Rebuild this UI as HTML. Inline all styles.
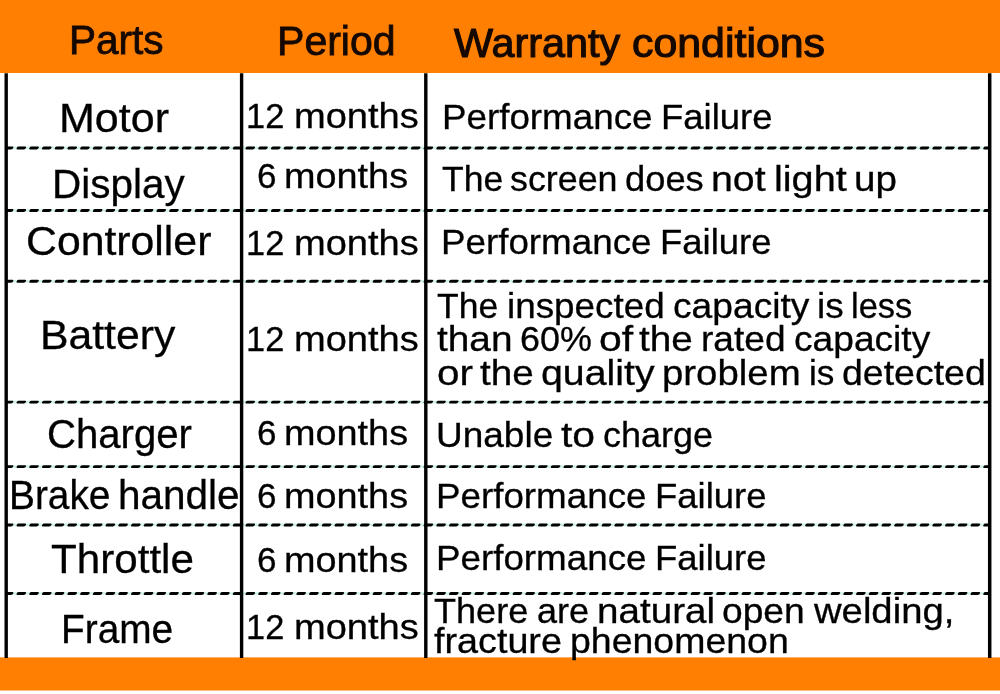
<!DOCTYPE html>
<html lang="en">
<head>
<meta charset="utf-8">
<title>Warranty conditions</title>
<style>
html,body{margin:0;padding:0;}
body{width:1000px;height:694px;background:#fff;overflow:hidden;position:relative;
  font-family:"Liberation Sans","Noto Sans CJK SC",sans-serif;color:#000;}
#warranty{will-change:transform;position:absolute;left:0;top:0;width:1000px;height:694px;overflow:hidden;background:#fff;}
svg.rules{position:absolute;left:0;top:0;}
.t{position:absolute;white-space:nowrap;line-height:1;transform-origin:0 0;}
.t.h{font-size:40px;color:#140800;-webkit-text-stroke:0.8px #140800;}
.t.w{font-size:40px;color:#140800;-webkit-text-stroke:1.1px #140800;}
.t.a{font-size:40px;-webkit-text-stroke:0.3px #000;}
.t.b{font-size:35px;-webkit-text-stroke:0.3px #000;}
</style>
</head>
<body>
<div id="warranty">
<svg class="rules" width="1000" height="694" viewBox="0 0 1000 694">
<rect x="0" y="0" width="1000" height="73.0" fill="#fe7f02"/>
<rect x="0" y="657.4" width="1000" height="33.1" fill="#fe7f02"/>
<line x1="7.2" y1="147.9" x2="988.7" y2="147.9" stroke="#d2f1ea" stroke-width="2.6"/>
<line x1="7.2" y1="147.9" x2="988.7" y2="147.9" stroke="#000" stroke-width="2.95" stroke-linecap="round" stroke-dasharray="6.3 6.42" stroke-dashoffset="1.75" transform="translate(65.85 0) skewX(-24)"/>
<line x1="7.2" y1="210.5" x2="988.7" y2="210.5" stroke="#d2f1ea" stroke-width="2.6"/>
<line x1="7.2" y1="210.5" x2="988.7" y2="210.5" stroke="#000" stroke-width="2.95" stroke-linecap="round" stroke-dasharray="6.3 6.42" stroke-dashoffset="1.75" transform="translate(93.72 0) skewX(-24)"/>
<line x1="7.2" y1="281.2" x2="988.7" y2="281.2" stroke="#d2f1ea" stroke-width="2.6"/>
<line x1="7.2" y1="281.2" x2="988.7" y2="281.2" stroke="#000" stroke-width="2.95" stroke-linecap="round" stroke-dasharray="6.3 6.42" stroke-dashoffset="1.75" transform="translate(125.20 0) skewX(-24)"/>
<line x1="7.2" y1="402.1" x2="988.7" y2="402.1" stroke="#d2f1ea" stroke-width="2.6"/>
<line x1="7.2" y1="402.1" x2="988.7" y2="402.1" stroke="#000" stroke-width="2.95" stroke-linecap="round" stroke-dasharray="6.3 6.42" stroke-dashoffset="1.75" transform="translate(179.03 0) skewX(-24)"/>
<line x1="7.2" y1="466.6" x2="988.7" y2="466.6" stroke="#d2f1ea" stroke-width="2.6"/>
<line x1="7.2" y1="466.6" x2="988.7" y2="466.6" stroke="#000" stroke-width="2.95" stroke-linecap="round" stroke-dasharray="6.3 6.42" stroke-dashoffset="1.75" transform="translate(207.74 0) skewX(-24)"/>
<line x1="7.2" y1="524.9" x2="988.7" y2="524.9" stroke="#d2f1ea" stroke-width="2.6"/>
<line x1="7.2" y1="524.9" x2="988.7" y2="524.9" stroke="#000" stroke-width="2.95" stroke-linecap="round" stroke-dasharray="6.3 6.42" stroke-dashoffset="1.75" transform="translate(233.70 0) skewX(-24)"/>
<line x1="7.2" y1="593.5" x2="988.7" y2="593.5" stroke="#d2f1ea" stroke-width="2.6"/>
<line x1="7.2" y1="593.5" x2="988.7" y2="593.5" stroke="#000" stroke-width="2.95" stroke-linecap="round" stroke-dasharray="6.3 6.42" stroke-dashoffset="1.75" transform="translate(264.24 0) skewX(-24)"/>
<line x1="6.2" y1="73.2" x2="6.2" y2="657.9" stroke="#000" stroke-width="3.4"/>
<line x1="241.6" y1="73.2" x2="241.6" y2="657.9" stroke="#000" stroke-width="3.4"/>
<line x1="425.8" y1="73.2" x2="425.8" y2="657.9" stroke="#000" stroke-width="3.4"/>
<line x1="989.7" y1="73.2" x2="989.7" y2="657.9" stroke="#000" stroke-width="3.5"/>
</svg>
<div class="row head">
  <div class="cell"><span class="t h" style="left:69.09px;top:19.91px;transform:scaleX(1.0124)">Parts</span></div>
  <div class="cell"><span class="t h" style="left:276.75px;top:20.81px;transform:scaleX(1.0261)">Period</span></div>
  <div class="cell"><span class="t w" style="left:454.47px;top:23.06px;transform:scaleX(1.0332)">Warranty</span> <span class="t w" style="left:631.56px;top:23.06px;transform:scaleX(1.0718)">conditions</span></div>
</div>
<div class="row">
  <div class="cell"><span class="t a" style="left:58.59px;top:98.40px;transform:scaleX(1.0758)">Motor</span></div>
  <div class="cell"><span class="t b" style="left:246.49px;top:97.90px;transform:scaleX(0.9829)">12</span> <span class="t b" style="left:293.50px;top:97.90px;transform:scaleX(1.0872)">months</span></div>
  <div class="cell"><span class="t b" style="left:442.33px;top:98.90px;transform:scaleX(1.0504)">Performance</span> <span class="t b" style="left:660.95px;top:98.90px;transform:scaleX(1.0421)">Failure</span></div>
</div>
<div class="row">
  <div class="cell"><span class="t a" style="left:51.50px;top:163.70px;transform:scaleX(1.0112)">Display</span></div>
  <div class="cell"><span class="t b" style="left:256.84px;top:158.20px;transform:scaleX(1.0013)">6</span> <span class="t b" style="left:283.61px;top:158.20px;transform:scaleX(1.0809)">months</span></div>
  <div class="cell"><span class="t b" style="left:441.55px;top:161.40px;transform:scaleX(1.0148)">The</span> <span class="t b" style="left:510.22px;top:161.40px;transform:scaleX(1.0230)">screen</span> <span class="t b" style="left:624.99px;top:161.40px;transform:scaleX(1.0381)">does</span> <span class="t b" style="left:711.12px;top:161.40px;transform:scaleX(1.1226)">not</span> <span class="t b" style="left:774.19px;top:161.40px;transform:scaleX(1.1326)">light</span> <span class="t b" style="left:854.42px;top:161.40px;transform:scaleX(1.1027)">up</span></div>
</div>
<div class="row">
  <div class="cell"><span class="t a" style="left:25.88px;top:221.10px;transform:scaleX(1.0691)">Controller</span></div>
  <div class="cell"><span class="t b" style="left:246.49px;top:224.90px;transform:scaleX(0.9829)">12</span> <span class="t b" style="left:293.50px;top:224.90px;transform:scaleX(1.0872)">months</span></div>
  <div class="cell"><span class="t b" style="left:441.43px;top:224.00px;transform:scaleX(1.0504)">Performance</span> <span class="t b" style="left:660.05px;top:224.00px;transform:scaleX(1.0421)">Failure</span></div>
</div>
<div class="row">
  <div class="cell"><span class="t a" style="left:39.82px;top:315.20px;transform:scaleX(1.0672)">Battery</span></div>
  <div class="cell"><span class="t b" style="left:246.49px;top:321.30px;transform:scaleX(0.9829)">12</span> <span class="t b" style="left:293.50px;top:321.30px;transform:scaleX(1.0872)">months</span></div>
  <div class="cell">
    <div class="ln"><span class="t b" style="left:437.36px;top:287.60px;transform:scaleX(1.0131)">The</span> <span class="t b" style="left:506.58px;top:287.60px;transform:scaleX(1.0528)">inspected</span> <span class="t b" style="left:672.55px;top:287.60px;transform:scaleX(1.0628)">capacity</span> <span class="t b" style="left:816.77px;top:287.60px;transform:scaleX(1.0560)">is</span> <span class="t b" style="left:851.01px;top:287.60px;transform:scaleX(0.9853)">less</span></div>
    <div class="ln"><span class="t b" style="left:437.23px;top:321.30px;transform:scaleX(1.1088)">than</span> <span class="t b" style="left:519.90px;top:321.30px;transform:scaleX(1.0249)">60%</span> <span class="t b" style="left:598.91px;top:321.30px;transform:scaleX(1.1685)">of</span> <span class="t b" style="left:639.03px;top:321.30px;transform:scaleX(1.1056)">the</span> <span class="t b" style="left:701.06px;top:321.30px;transform:scaleX(1.0594)">rated</span> <span class="t b" style="left:793.85px;top:321.30px;transform:scaleX(1.0612)">capacity</span></div>
    <div class="ln"><span class="t b" style="left:436.63px;top:354.90px;transform:scaleX(1.1572)">or</span> <span class="t b" style="left:479.83px;top:354.90px;transform:scaleX(1.1035)">the</span> <span class="t b" style="left:540.57px;top:354.90px;transform:scaleX(1.1224)">quality</span> <span class="t b" style="left:661.72px;top:354.90px;transform:scaleX(1.0962)">problem</span> <span class="t b" style="left:808.78px;top:354.90px;transform:scaleX(1.0057)">is</span> <span class="t b" style="left:841.54px;top:354.90px;transform:scaleX(1.0703)">detected</span></div>
  </div>
</div>
<div class="row">
  <div class="cell"><span class="t a" style="left:46.90px;top:413.50px;transform:scaleX(1.0031)">Charger</span></div>
  <div class="cell"><span class="t b" style="left:256.84px;top:415.30px;transform:scaleX(1.0013)">6</span> <span class="t b" style="left:283.61px;top:415.30px;transform:scaleX(1.0809)">months</span></div>
  <div class="cell"><span class="t b" style="left:436.19px;top:417.40px;transform:scaleX(1.0567)">Unable</span> <span class="t b" style="left:560.71px;top:417.40px;transform:scaleX(1.1659)">to</span> <span class="t b" style="left:602.80px;top:417.40px;transform:scaleX(1.0285)">charge</span></div>
</div>
<div class="row">
  <div class="cell"><span class="t a" style="left:9.22px;top:474.90px;transform:scaleX(0.9706)">Brake</span> <span class="t a" style="left:118.43px;top:474.90px;transform:scaleX(1.0119)">handle</span></div>
  <div class="cell"><span class="t b" style="left:256.84px;top:477.90px;transform:scaleX(1.0013)">6</span> <span class="t b" style="left:283.61px;top:477.90px;transform:scaleX(1.0809)">months</span></div>
  <div class="cell"><span class="t b" style="left:436.33px;top:477.60px;transform:scaleX(1.0504)">Performance</span> <span class="t b" style="left:654.95px;top:477.60px;transform:scaleX(1.0421)">Failure</span></div>
</div>
<div class="row">
  <div class="cell"><span class="t a" style="left:50.68px;top:539.30px;transform:scaleX(1.0540)">Throttle</span></div>
  <div class="cell"><span class="t b" style="left:256.84px;top:542.30px;transform:scaleX(1.0013)">6</span> <span class="t b" style="left:283.61px;top:542.30px;transform:scaleX(1.0809)">months</span></div>
  <div class="cell"><span class="t b" style="left:436.33px;top:540.30px;transform:scaleX(1.0504)">Performance</span> <span class="t b" style="left:654.95px;top:540.30px;transform:scaleX(1.0421)">Failure</span></div>
</div>
<div class="row">
  <div class="cell"><span class="t a" style="left:61.32px;top:609.20px;transform:scaleX(0.9708)">Frame</span></div>
  <div class="cell"><span class="t b" style="left:246.49px;top:609.10px;transform:scaleX(0.9829)">12</span> <span class="t b" style="left:293.50px;top:609.10px;transform:scaleX(1.0872)">months</span></div>
  <div class="cell">
    <div class="ln"><span class="t b" style="left:434.35px;top:593.10px;transform:scaleX(1.0303)">There</span> <span class="t b" style="left:536.68px;top:593.10px;transform:scaleX(1.0305)">are</span> <span class="t b" style="left:596.76px;top:593.10px;transform:scaleX(1.1034)">natural</span> <span class="t b" style="left:721.96px;top:593.10px;transform:scaleX(1.0624)">open</span> <span class="t b" style="left:813.66px;top:593.10px;transform:scaleX(1.0925)">welding,</span></div>
    <div class="ln"><span class="t b" style="left:434.26px;top:622.80px;transform:scaleX(1.0781)">fracture</span> <span class="t b" style="left:570.48px;top:622.80px;transform:scaleX(1.0706)">phenomenon</span></div>
  </div>
</div>
</div>
</body>
</html>
